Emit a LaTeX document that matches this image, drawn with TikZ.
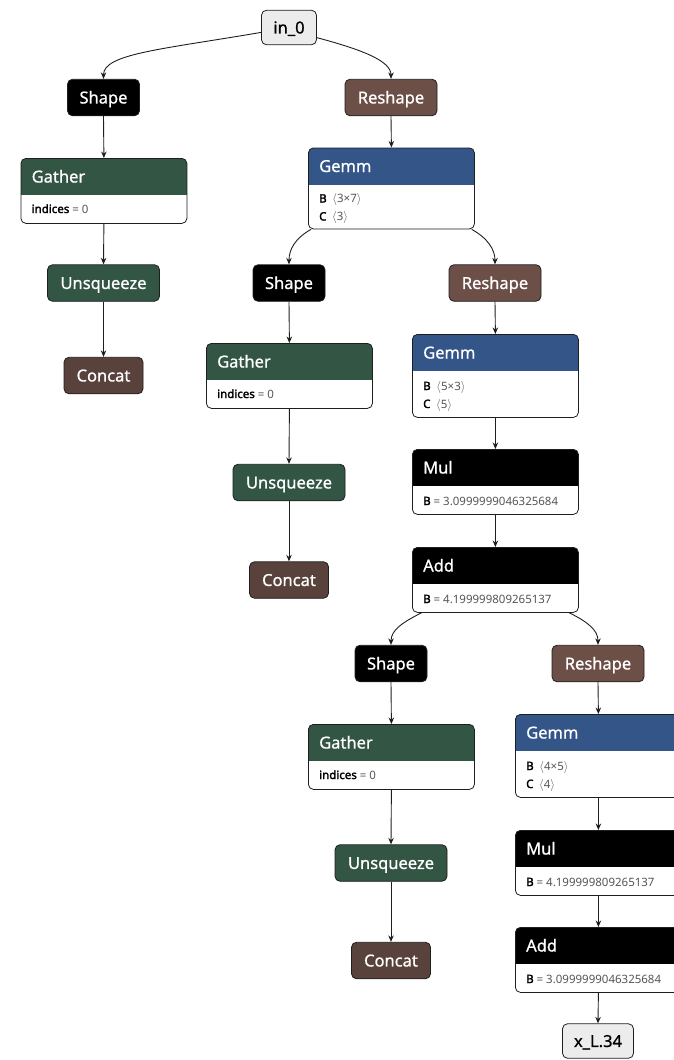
\documentclass[tikz,border=0pt]{standalone}
\usepackage{fontspec}
\setmainfont{Noto Sans}
\newfontfamily\hdrface{Noto Sans}[FakeBold=0.9]
\newfontfamily\keyface{Noto Sans}[FakeBold=2.2]
\usetikzlibrary{arrows.meta}

\definecolor{layerc}{RGB}{51,85,136}
\definecolor{transc}{RGB}{51,85,68}
\definecolor{shapec}{RGB}{108,79,71}
\definecolor{tensorc}{RGB}{89,66,59}
\definecolor{edgec}{RGB}{30,30,30}
\definecolor{ioc}{RGB}{236,236,236}
\definecolor{valc}{RGB}{85,85,85}

\newcommand\hdrfont{\hdrface\fontsize{16.5}{19}\selectfont}
\newcommand\attrfont{\fontsize{11.5}{14}\selectfont}
\newcommand\key[1]{{\keyface #1}}
\newcommand\shp[1]{{\color{valc}$\langle$#1$\rangle$}}
\newcommand\val[1]{{\color{valc}#1}}

\tikzset{
  opnode/.style={draw=edgec, line width=0.8pt, rounded corners=5pt,
    minimum height=36.5pt, inner sep=0pt, text height=11.9pt, text depth=0pt,
    text=white, font=\hdrfont, fill=#1},
  ionode/.style={draw=edgec, line width=0.8pt, rounded corners=5pt,
    minimum height=34.5pt, inner sep=0pt, text height=11.9pt, text depth=0pt,
    fill=ioc, font=\hdrfont},
  attrbox/.style 2 args={draw=edgec, line width=0.8pt, rounded corners=5pt,
    fill=white, minimum width=166pt, minimum height=#2, inner sep=0pt,
    anchor=north west,
    path picture={\fill[#1, sharp corners] (path picture bounding box.north west)
      rectangle ([yshift=-37pt]path picture bounding box.north east);}},
  title/.style={anchor=base west, text=white, font=\hdrfont, inner sep=0pt},
  attr/.style={anchor=base west, font=\attrfont, inner sep=0pt},
  flow/.style={draw=edgec, line width=0.9pt, -{Stealth[length=6.5pt, width=5.5pt]}},
}

\begin{document}
\begin{tikzpicture}[x=1pt, y=-1pt]
\useasboundingbox (0,0) rectangle (674,1060);
\clip (0,0) rectangle (674,1060);

% graph input
\node[ionode, minimum width=55pt] (in0) at (289,27.5) {in\_0};

% first branch
\node[opnode=black, minimum width=72pt] (shape1) at (103.5,97.5) {Shape};
\node[opnode=shapec, minimum width=92pt] (reshape1) at (391,97.5) {Reshape};

\node[attrbox={transc}{65pt}] (gather1) at (20.5,158) {};
\node[title] (gather1-t) at ([xshift=11pt,yshift=-24.5pt]gather1.north west) {Gather};
\node[attr] (gather1-a) at ([xshift=11pt,yshift=-55pt]gather1.north west) {\key{indices} \val{= 0}};

\node[attrbox={layerc}{81pt}] (gemm1) at (308,147.5) {};
\node[title] (gemm1-t) at ([xshift=11pt,yshift=-24.5pt]gemm1.north west) {Gemm};
\node[attr] (gemm1-a) at ([xshift=11pt,yshift=-55pt]gemm1.north west) {\key{B}\enspace\shp{3×7}};
\node[attr] (gemm1-b) at ([xshift=11pt,yshift=-73pt]gemm1.north west) {\key{C}\enspace\shp{3}};

\node[opnode=transc, minimum width=112pt] (unsq1) at (103.5,283) {Unsqueeze};
\node[opnode=tensorc, minimum width=79pt] (concat1) at (103.5,375.5) {Concat};

% second branch
\node[opnode=black, minimum width=72pt] (shape2) at (289,283) {Shape};
\node[opnode=shapec, minimum width=92pt] (reshape2) at (495,283) {Reshape};

\node[attrbox={transc}{65pt}] (gather2) at (206,343) {};
\node[title] (gather2-t) at ([xshift=11pt,yshift=-24.5pt]gather2.north west) {Gather};
\node[attr] (gather2-a) at ([xshift=11pt,yshift=-55pt]gather2.north west) {\key{indices} \val{= 0}};

\node[attrbox={layerc}{83pt}] (gemm2) at (412,334) {};
\node[title] (gemm2-t) at ([xshift=11pt,yshift=-24.5pt]gemm2.north west) {Gemm};
\node[attr] (gemm2-a) at ([xshift=11pt,yshift=-56pt]gemm2.north west) {\key{B}\enspace\shp{5×3}};
\node[attr] (gemm2-b) at ([xshift=11pt,yshift=-74pt]gemm2.north west) {\key{C}\enspace\shp{5}};

\node[opnode=transc, minimum width=112pt] (unsq2) at (289,482.5) {Unsqueeze};
\node[opnode=tensorc, minimum width=79pt] (concat2) at (289,580) {Concat};

\node[attrbox={black}{65pt}] (mul1) at (412,449) {};
\node[title] (mul1-t) at ([xshift=11pt,yshift=-24.5pt]mul1.north west) {Mul};
\node[attr] (mul1-a) at ([xshift=11pt,yshift=-56pt]mul1.north west) {\key{B} \val{= 3.0999999046325684}};

\node[attrbox={black}{65pt}] (add1) at (412,547) {};
\node[title] (add1-t) at ([xshift=11pt,yshift=-24.5pt]add1.north west) {Add};
\node[attr] (add1-a) at ([xshift=11pt,yshift=-56pt]add1.north west) {\key{B} \val{= 4.199999809265137}};

% third branch
\node[opnode=black, minimum width=72pt] (shape3) at (391,663.5) {Shape};
\node[opnode=shapec, minimum width=92pt] (reshape3) at (598,663.5) {Reshape};

\node[attrbox={transc}{65pt}] (gather3) at (308,724) {};
\node[title] (gather3-t) at ([xshift=11pt,yshift=-24.5pt]gather3.north west) {Gather};
\node[attr] (gather3-a) at ([xshift=11pt,yshift=-55pt]gather3.north west) {\key{indices} \val{= 0}};

\node[attrbox={layerc}{83pt}] (gemm3) at (515,714) {};
\node[title] (gemm3-t) at ([xshift=11pt,yshift=-24.5pt]gemm3.north west) {Gemm};
\node[attr] (gemm3-a) at ([xshift=11pt,yshift=-56pt]gemm3.north west) {\key{B}\enspace\shp{4×5}};
\node[attr] (gemm3-b) at ([xshift=11pt,yshift=-74pt]gemm3.north west) {\key{C}\enspace\shp{4}};

\node[opnode=transc, minimum width=112pt] (unsq3) at (391,863) {Unsqueeze};
\node[opnode=tensorc, minimum width=79pt] (concat3) at (391,960.5) {Concat};

\node[attrbox={black}{65pt}] (mul2) at (515,830) {};
\node[title] (mul2-t) at ([xshift=11pt,yshift=-24.5pt]mul2.north west) {Mul};
\node[attr] (mul2-a) at ([xshift=11pt,yshift=-56pt]mul2.north west) {\key{B} \val{= 4.199999809265137}};

\node[attrbox={black}{65pt}] (add2) at (515,927) {};
\node[title] (add2-t) at ([xshift=11pt,yshift=-24.5pt]add2.north west) {Add};
\node[attr] (add2-a) at ([xshift=11pt,yshift=-56pt]add2.north west) {\key{B} \val{= 3.0999999046325684}};

% graph output
\node[ionode, minimum width=71pt] (xl34) at (598,1041) {x\_L.34};

% curved fan-out connectors
\draw[flow] (in0.190) .. controls +(-100,17) and +(0,-25) .. (shape1.north);
\draw[flow] (in0.-20) .. controls +(45,12) and +(0,-18) .. (reshape1.north);
\draw[flow] (gemm1.207) .. controls +(-16,9) and +(0,-15) .. (shape2.north);
\draw[flow] (gemm1.-27) .. controls +(16,9) and +(0,-15) .. (reshape2.north);
\draw[flow] (add1.204) .. controls +(-18,9) and +(0,-15) .. (shape3.north);
\draw[flow] (add1.-24) .. controls +(18,9) and +(0,-15) .. (reshape3.north);

% straight connectors
\draw[flow] (shape1.south) -- (gather1.north);
\draw[flow] (gather1.south) -- (unsq1.north);
\draw[flow] (unsq1.south) -- (concat1.north);
\draw[flow] (reshape1.south) -- (gemm1.north);
\draw[flow] (shape2.south) -- (gather2.north);
\draw[flow] (gather2.south) -- (unsq2.north);
\draw[flow] (unsq2.south) -- (concat2.north);
\draw[flow] (reshape2.south) -- (gemm2.north);
\draw[flow] (gemm2.south) -- (mul1.north);
\draw[flow] (mul1.south) -- (add1.north);
\draw[flow] (shape3.south) -- (gather3.north);
\draw[flow] (gather3.south) -- (unsq3.north);
\draw[flow] (unsq3.south) -- (concat3.north);
\draw[flow] (reshape3.south) -- (gemm3.north);
\draw[flow] (gemm3.south) -- (mul2.north);
\draw[flow] (mul2.south) -- (add2.north);
\draw[flow] (add2.south) -- (xl34.north);
\end{tikzpicture}
\end{document}
